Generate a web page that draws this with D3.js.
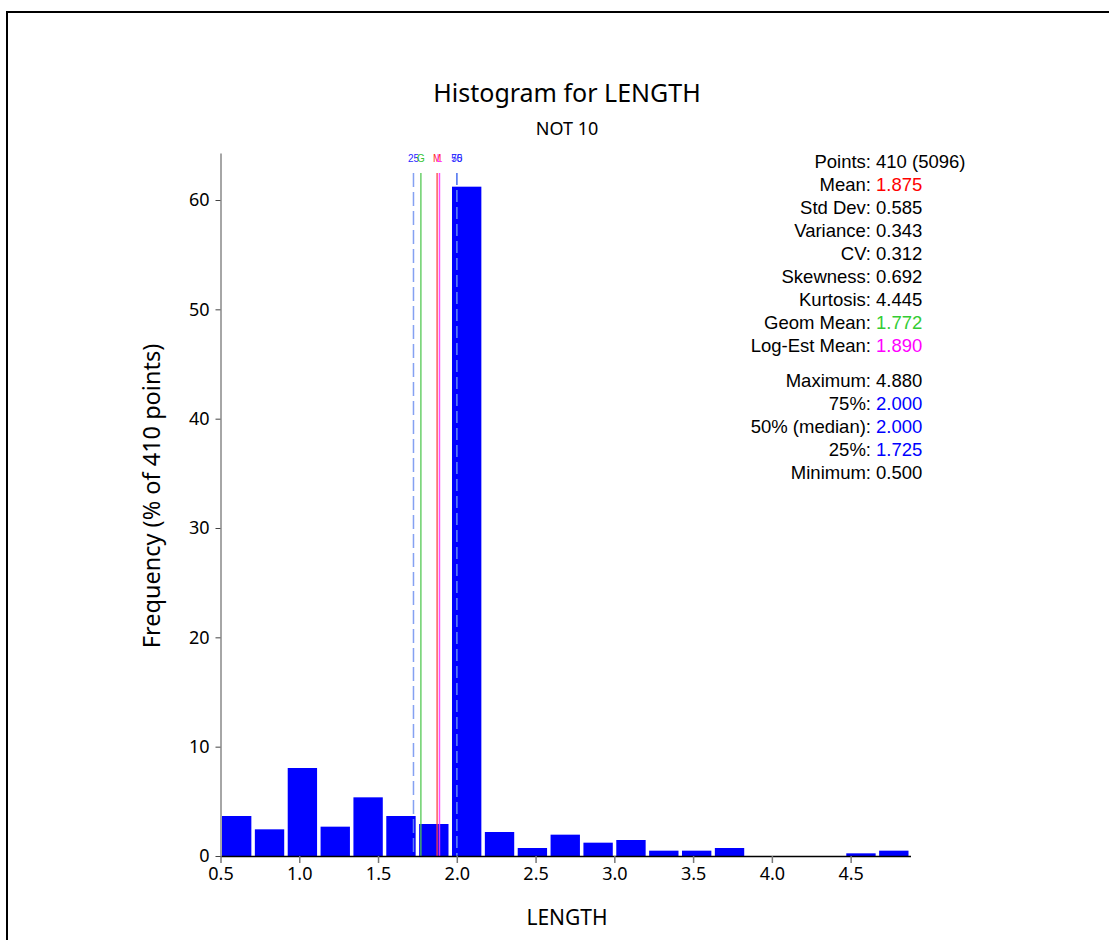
<!DOCTYPE html>
<html>
<head>
<meta charset="utf-8">
<script src="https://cdn.jsdelivr.net/npm/d3@7"></script>
<style>
  html, body { margin: 0; padding: 0; background: #fff; }
  svg { display: block; }
</style>
</head>
<body>
<script>
// Histogram of LENGTH (subset "NOT 10"), 410 points, 21 equal-width bins
const binMin = 0.5;
const binMax = 4.88;
const binCounts = [15, 10, 33, 11, 22, 15, 12, 251, 9, 3, 8, 5, 6, 2, 2, 3, 0, 0, 0, 1, 2];
const totalPoints = 410;
const xTicks = [0.5, 1.0, 1.5, 2.0, 2.5, 3.0, 3.5, 4.0, 4.5];
const yTicks = [0, 10, 20, 30, 40, 50, 60];

// Reference lines: quartiles, geometric mean, mean, log-estimated mean
const markerLabels = ["25", "G", "M", "L", "50", "75"];
const markerValues = [1.725, 1.772, 1.875, 1.890, 2.000, 2.000];
const markerColors = ["#2a2aff", "#33c433", "#ff2a2a", "#ff22ff", "#2a2aff", "#2a2aff"];
const markerStroke = ["#7090f0", "#50c850", "#ff4040", "#ff30ff", "#5a7cf0", "#5a7cf0"];
const markerDash = ["14,5", null, null, null, "12,5", "12,5"];

// Summary statistics panel
const statLabels = ["Points:", "Mean:", "Std Dev:", "Variance:", "CV:", "Skewness:", "Kurtosis:", "Geom Mean:", "Log-Est Mean:",
                    "Maximum:", "75%:", "50% (median):", "25%:", "Minimum:"];
const statValues = ["410 (5096)", "1.875", "0.585", "0.343", "0.312", "0.692", "4.445", "1.772", "1.890",
                    "4.880", "2.000", "2.000", "1.725", "0.500"];
const statColors = ["#000", "#ff0000", "#000", "#000", "#000", "#000", "#000", "#33cc33", "#ff00ff",
                    "#000", "#0000ff", "#0000ff", "#0000ff", "#000"];
const statGroupBreak = 9;

const W = 1109, H = 940;
const svg = d3.select("body").append("svg").attr("width", W).attr("height", H);

// frame
svg.append("path")
  .attr("d", `M7,${H + 5} L7,12 L${W + 5},12`)
  .attr("fill", "none").attr("stroke", "#000").attr("stroke-width", 2);

const uiFont = "'Noto Sans', 'Open Sans', sans-serif";
const statFont = "'Liberation Sans', Arial, sans-serif";

const x = d3.scaleLinear().domain([binMin, binMax]).range([220.5, 910.5]);
const y = d3.scaleLinear().domain([0, 64.3]).range([856, 153]);

// bins
const nBins = binCounts.length;
const step = (binMax - binMin) / nBins;
const bins = binCounts.map((c, i) => ({
  x0: binMin + i * step,
  x1: binMin + (i + 1) * step,
  pct: c / totalPoints * 100
}));

svg.append("g").selectAll("rect").data(bins.filter(d => d.pct > 0)).join("rect")
  .attr("x", d => x(d.x0) + 1.5)
  .attr("width", d => x(d.x1) - x(d.x0) - 3.5)
  .attr("y", d => y(d.pct))
  .attr("height", d => y(0) - y(d.pct))
  .attr("fill", "#0000ff");

// reference lines
const markers = markerValues.map((v, i) => ({ v, label: markerLabels[i], color: markerColors[i], stroke: markerStroke[i], dash: markerDash[i] }));
svg.append("g").selectAll("line").data(markers).join("line")
  .attr("x1", d => x(d.v)).attr("x2", d => x(d.v))
  .attr("y1", 173).attr("y2", y(0))
  .attr("stroke", d => d.stroke)
  .attr("stroke-width", 1.5)
  .attr("stroke-opacity", 0.85)
  .attr("stroke-dasharray", d => d.dash);
svg.append("g").selectAll("text").data(markers).join("text")
  .attr("x", d => x(d.v)).attr("y", 162)
  .attr("text-anchor", "middle")
  .attr("font-family", statFont).attr("font-size", 10)
  .attr("fill", d => d.color)
  .text(d => d.label);

// axes
const xAxis = svg.append("g").attr("transform", `translate(0,${y(0)})`)
  .call(d3.axisBottom(x).tickValues(xTicks).tickFormat(d3.format(".1f")).tickSizeInner(7).tickSizeOuter(0));
xAxis.select(".domain").attr("stroke", "#000").attr("stroke-width", 1.5);
xAxis.selectAll(".tick line").attr("stroke", "#777").attr("stroke-width", 1.5);
xAxis.selectAll(".tick text").attr("font-family", uiFont).attr("font-size", 18).attr("fill", "#000").attr("dy", "0.85em").attr("y", 9);

const yAxis = svg.append("g").attr("transform", `translate(${x(binMin)},0)`)
  .call(d3.axisLeft(y).tickValues(yTicks).tickSizeInner(5).tickSizeOuter(0));
yAxis.select(".domain").attr("stroke", "#888").attr("stroke-width", 1.5);
yAxis.selectAll(".tick line").attr("stroke", "#444");
yAxis.selectAll(".tick text").attr("font-family", uiFont).attr("font-size", 18).attr("fill", "#000").attr("x", -11);

// titles
svg.append("text").attr("x", 567).attr("y", 102).attr("text-anchor", "middle")
  .attr("font-family", uiFont).attr("font-size", 25).attr("fill", "#000")
  .text("Histogram for LENGTH");
svg.append("text").attr("x", 567).attr("y", 135).attr("text-anchor", "middle")
  .attr("font-family", uiFont).attr("font-size", 18).attr("fill", "#000")
  .text("NOT 10");
svg.append("text").attr("x", 567).attr("y", 925).attr("text-anchor", "middle")
  .attr("font-family", uiFont).attr("font-size", 21).attr("fill", "#000")
  .text("LENGTH");
svg.append("text").attr("transform", "translate(160,496) rotate(-90)").attr("text-anchor", "middle")
  .attr("font-family", uiFont).attr("font-size", 23.5).attr("fill", "#000")
  .text(`Frequency (% of ${totalPoints} points)`);

// statistics panel
const stats = svg.append("g").attr("font-family", statFont).attr("font-size", 18.5);
statLabels.forEach((lab, i) => {
  const yy = 168 + i * 23 + (i >= statGroupBreak ? 12 : 0);
  stats.append("text").attr("x", 871).attr("y", yy).attr("text-anchor", "end").attr("fill", "#000").text(lab);
  stats.append("text").attr("x", 876).attr("y", yy).attr("fill", statColors[i]).text(statValues[i]);
});
</script>
</body>
</html>
